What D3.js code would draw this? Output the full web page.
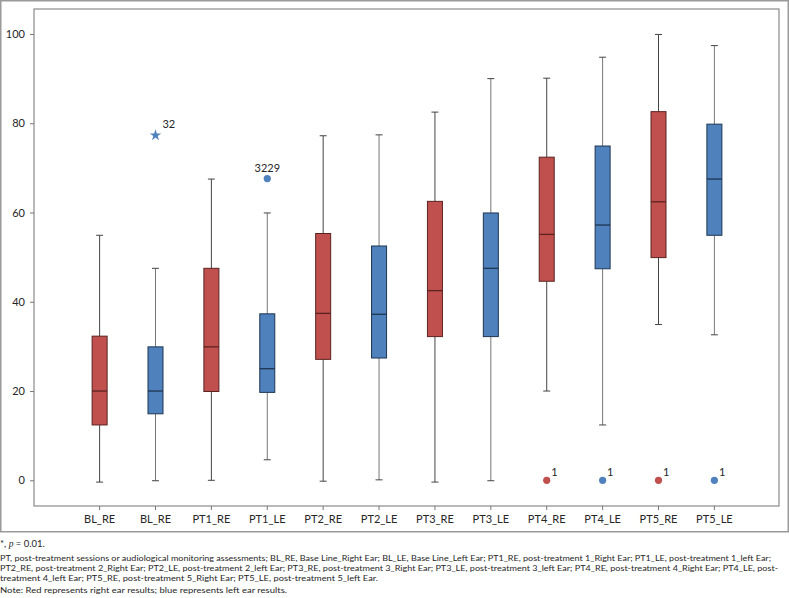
<!DOCTYPE html>
<html>
<head>
<meta charset="utf-8">
<script src="https://cdn.jsdelivr.net/npm/d3@7"></script>
<style>
  html, body { margin: 0; padding: 0; background: #fff; }
  svg { display: block; }
  text { font-family: Lato, "Open Sans", "Noto Sans", sans-serif; fill: #262626; }
</style>
</head>
<body>
<svg id="chart" width="789" height="598"></svg>
<script>
// ---- data ----
const categories = ["BL_RE","BL_RE","PT1_RE","PT1_LE","PT2_RE","PT2_LE","PT3_RE","PT3_LE","PT4_RE","PT4_LE","PT5_RE","PT5_LE"];
const ears       = ["R","L","R","L","R","L","R","L","R","L","R","L"];
const whiskerLow = [-0.4, -0.1, 0.0, 4.6, -0.2, 0.1, -0.4, -0.1, 20.0, 12.4, 34.9, 32.6];
const q1Values   = [12.4, 14.9, 19.9, 19.7, 27.1, 27.4, 32.2, 32.2, 44.6, 47.4, 49.9, 54.9];
const medians    = [20.0, 20.0, 29.9, 25.0, 37.4, 37.2, 42.5, 47.5, 55.1, 57.2, 62.4, 67.5];
const q3Values   = [32.3, 29.9, 47.5, 37.3, 55.3, 52.5, 62.5, 59.9, 72.4, 74.9, 82.6, 79.8];
const whiskerHigh= [54.9, 47.5, 67.5, 59.9, 77.2, 77.4, 82.5, 90.0, 90.1, 94.8, 99.9, 97.4];
const outlierCat   = [1, 3, 8, 9, 10, 11];
const outlierValue = [77.3, 67.6, 0, 0, 0, 0];
const outlierLabel = ["32", "3229", "1", "1", "1", "1"];
const outlierShape = ["star", "circle", "circle", "circle", "circle", "circle"];
const yTicks = [0, 20, 40, 60, 80, 100];
const footStar = "p = 0.01.";
const footLines = [
  "PT, post-treatment sessions or audiological monitoring assessments; BL_RE, Base Line_Right Ear; BL_LE, Base Line_Left Ear; PT1_RE, post-treatment 1_Right Ear; PT1_LE, post-treatment 1_left Ear;",
  "PT2_RE, post-treatment 2_Right Ear; PT2_LE, post-treatment 2_left Ear; PT3_RE, post-treatment 3_Right Ear; PT3_LE, post-treatment 3_left Ear; PT4_RE, post-treatment 4_Right Ear; PT4_LE, post-",
  "treatment 4_left Ear; PT5_RE, post-treatment 5_Right Ear; PT5_LE, post-treatment 5_left Ear."
];
const noteLine = "Note: Red represents right ear results; blue represents left ear results.";

// ---- layout ----
const svg = d3.select("#chart");
const frame = {left: 34, top: 9, right: 779, bottom: 506};
const fill = {R: "#C0504D", L: "#4F81BD"};
const edge = {R: "#5a2220", L: "#1e3552"};
const whiskerColor = {R: "#444", L: "#777"};

const x = d3.scalePoint().domain(d3.range(categories.length))
  .range([frame.left, frame.right]).padding(1.165);
const y = d3.scaleLinear().domain([0, 100]).range([480.3, 34]);

// outer frame
svg.append("rect").attr("x", 0.75).attr("y", 0.75).attr("width", 787.5).attr("height", 531)
  .attr("fill", "none").attr("stroke", "#9a9a9a").attr("stroke-width", 1.5);
// inner plot frame
svg.append("rect").attr("x", frame.left).attr("y", frame.top)
  .attr("width", frame.right - frame.left).attr("height", frame.bottom - frame.top)
  .attr("fill", "#fff").attr("stroke", "#8a8a8a").attr("stroke-width", 1.2);

// y axis
const yAxis = d3.axisLeft(y).tickValues(yTicks).tickSize(4).tickPadding(5).tickSizeOuter(0);
const gy = svg.append("g").attr("transform", `translate(${frame.left},0)`).call(yAxis);
gy.select(".domain").remove();
gy.selectAll(".tick line").attr("stroke", "#777");
gy.selectAll(".tick text").attr("font-size", 11).attr("fill", "#262626")
  .style("font-family", "Lato, 'Open Sans', sans-serif");

// x axis
const xAxis = d3.axisBottom(x).tickFormat(i => categories[i]).tickSize(4).tickPadding(5).tickSizeOuter(0);
const gx = svg.append("g").attr("transform", `translate(0,${frame.bottom})`).call(xAxis);
gx.select(".domain").remove();
gx.selectAll(".tick line").attr("stroke", "#777");
gx.selectAll(".tick text").attr("font-size", 11).attr("fill", "#262626")
  .style("font-family", "Lato, 'Open Sans', sans-serif");

// boxes
const boxW = 15, capW = 7;
const g = svg.append("g");
categories.forEach((c, i) => {
  const cx = x(i) + 0.5;
  const e = ears[i];
  g.append("line").attr("x1", cx).attr("x2", cx).attr("y1", y(q3Values[i])).attr("y2", y(whiskerHigh[i]))
    .attr("stroke", whiskerColor[e]).attr("stroke-width", 1);
  g.append("line").attr("x1", cx).attr("x2", cx).attr("y1", y(q1Values[i])).attr("y2", y(whiskerLow[i]))
    .attr("stroke", whiskerColor[e]).attr("stroke-width", 1);
  [whiskerHigh[i], whiskerLow[i]].forEach(v => {
    g.append("line").attr("x1", cx - capW / 2).attr("x2", cx + capW / 2).attr("y1", y(v)).attr("y2", y(v))
      .attr("stroke", "#444").attr("stroke-width", 1);
  });
  g.append("rect").attr("x", cx - boxW / 2).attr("y", y(q3Values[i]))
    .attr("width", boxW).attr("height", y(q1Values[i]) - y(q3Values[i]))
    .attr("fill", fill[e]).attr("stroke", edge[e]).attr("stroke-width", 1);
  g.append("line").attr("x1", cx - boxW / 2).attr("x2", cx + boxW / 2)
    .attr("y1", y(medians[i])).attr("y2", y(medians[i]))
    .attr("stroke", edge[e]).attr("stroke-width", 1.3);
});

// outliers
const star = d3.symbol().type(d3.symbolStar).size(40);
outlierCat.forEach((ci, k) => {
  const cx = x(ci) + 0.5, cy = y(outlierValue[k]);
  const col = fill[ears[ci]];
  if (outlierShape[k] === "star") {
    g.append("path").attr("d", star()).attr("transform", `translate(${cx},${cy})`).attr("fill", col);
    g.append("text").attr("x", cx + 7).attr("y", cy - 7).attr("font-size", 11).text(outlierLabel[k]);
  } else {
    g.append("circle").attr("cx", cx).attr("cy", cy).attr("r", 3.6).attr("fill", col);
    if (outlierLabel[k].length > 1) {
      g.append("text").attr("x", cx).attr("y", cy - 7).attr("text-anchor", "middle")
        .attr("font-size", 11).text(outlierLabel[k]);
    } else {
      g.append("text").attr("x", cx + 4.5).attr("y", cy - 4).attr("font-size", 11).text(outlierLabel[k]);
    }
  }
});

// footnotes
const foot = svg.append("g").attr("font-size", 8.4);
const t0 = foot.append("text").attr("x", 0).attr("y", 546.5).attr("font-size", 9.5);
t0.append("tspan").text("*, ");
t0.append("tspan").attr("font-style", "italic").style("font-family", "'Liberation Serif', serif").text("p");
t0.append("tspan").text(footStar.slice(1));
const lineY = [561, 571, 581];
const lineW = [771, 778, 378];
footLines.forEach((s, i) => {
  foot.append("text").attr("x", 0).attr("y", lineY[i]).attr("textLength", lineW[i])
    .attr("lengthAdjust", "spacingAndGlyphs").text(s);
});
foot.append("text").attr("x", 0).attr("y", 592.5).attr("textLength", 287)
  .attr("lengthAdjust", "spacingAndGlyphs").text(noteLine);
</script>
</body>
</html>
